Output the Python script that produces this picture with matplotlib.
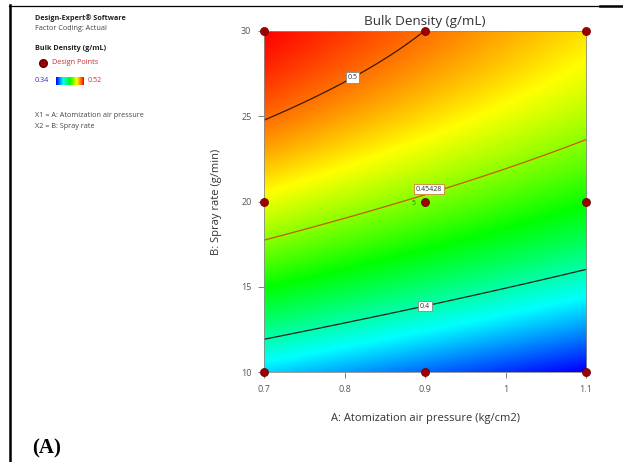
import numpy as np
import matplotlib
matplotlib.use("Agg")
import matplotlib.pyplot as plt
from matplotlib.colors import LinearSegmentedColormap
from matplotlib.lines import Line2D

plt.rcParams['font.family'] = ['Open Sans', 'DejaVu Sans']

# Factor ranges (actual units)
a_range = [0.7, 1.1]          # A: Atomization air pressure (kg/cm2)
b_range = [10, 30]            # B: Spray rate (g/min)

# Design points (face-centred design, centre point replicated 5 times)
design_A = [0.7, 0.7, 0.7, 0.9, 0.9, 0.9, 1.1, 1.1, 1.1]
design_B = [10, 20, 30, 10, 20, 30, 10, 20, 30]
centre_reps = 5

# Quadratic model in coded factors: b0, A, B, AB, A^2, B^2
coef_terms = ['b0', 'A', 'B', 'AB', 'A2', 'B2']
coef_values = [0.4515, -0.0199, 0.0705, 0.0, 0.0, -0.0221]

# Contour levels and colour scale limits
contour_levels = [0.4, 0.45428, 0.5]
contour_colors = ['#202020', '#c85a00', '#3a1a00']
label_A = [0.9, 0.905, 0.81]
label_lift = [0.0, 0.25, 0.0]   # small vertical offset of the label box (g/min)
scale_min, scale_max = 0.34, 0.52

xticks = [0.7, 0.8, 0.9, 1.0, 1.1]
xticklabels = ['0.7', '0.8', '0.9', '1', '1.1']
yticks = [10, 15, 20, 25, 30]


def predict(A, B):
    c = dict(zip(coef_terms, coef_values))
    a = (A - 0.9) / 0.2
    b = (B - 20) / 10
    return (c['b0'] + c['A'] * a + c['B'] * b + c['AB'] * a * b
            + c['A2'] * a ** 2 + c['B2'] * b ** 2)


cmap = LinearSegmentedColormap.from_list(
    'de', ['#0000ff', '#00ffff', '#00ff00', '#ffff00', '#ff0000'])

fig = plt.figure(figsize=(6.23, 4.62), dpi=100)
ax = fig.add_axes([264 / 623, 1 - 372 / 462, 322 / 623, 341 / 462])

gA = np.linspace(a_range[0], a_range[1], 400)
gB = np.linspace(b_range[0], b_range[1], 400)
AA, BB = np.meshgrid(gA, gB)
Z = predict(AA, BB)

ax.imshow(Z, origin='lower', extent=[a_range[0], a_range[1], b_range[0], b_range[1]],
          aspect='auto', cmap=cmap, vmin=scale_min, vmax=scale_max,
          interpolation='bilinear')

cs = ax.contour(AA, BB, Z, levels=contour_levels, colors=contour_colors,
                linewidths=0.9)

# Place each label on its contour at the chosen A position
for lev, col, xa, dy in zip(contour_levels, contour_colors, label_A, label_lift):
    bs = np.linspace(b_range[0], b_range[1], 4001)
    vals = predict(xa, bs)
    yb = bs[np.argmin(np.abs(vals - lev))]
    txt = f'{lev:g}'
    edge = '#d08040' if lev == 0.45428 else '#888888'
    ax.text(xa, yb + dy, txt, fontsize=5, ha='center', va='center', color='#333333',
            bbox=dict(boxstyle='square,pad=0.25', fc='white', ec=edge, lw=0.6),
            zorder=5)

ax.plot(design_A, design_B, 'o', color='#a00000', mec='#600000', mew=0.5,
        ms=5.8, clip_on=False, zorder=6)
ax.text(0.9 - 0.012, 19.9, str(centre_reps), fontsize=5, color='#208020',
        ha='right', va='center', zorder=6)

ax.set_xlim(a_range)
ax.set_ylim(b_range)
ax.set_xticks(xticks)
ax.set_xticklabels(xticklabels)
ax.set_yticks(yticks)
ax.tick_params(direction='out', length=4, width=0.6, color='#707070',
               labelsize=6.5, labelcolor='#555555', pad=5)
for s in ax.spines.values():
    s.set_color('#8a8a8a')
    s.set_linewidth(0.6)

ax.set_title('Bulk Density (g/mL)', fontsize=9.7, color='#333333', pad=4)
ax.set_xlabel('A: Atomization air pressure (kg/cm2)', fontsize=8,
              color='#333333', labelpad=14)
ax.set_ylabel('B: Spray rate (g/min)', fontsize=8, color='#333333', labelpad=14)

# Side panel
def ptext(x, y, s, **kw):
    fig.text(x / 623, 1 - y / 462, s, va='center', ha='left', **kw)

ptext(35, 18, 'Design-Expert® Software', fontsize=5.2, fontweight='bold', color='#222222')
ptext(35, 28, 'Factor Coding: Actual', fontsize=5.2, color='#444444')
ptext(35, 49, 'Bulk Density (g/mL)', fontsize=5.2, fontweight='bold', color='#222222')
fig.add_artist(Line2D([43 / 623], [1 - 63 / 462], marker='o', color='#a00000',
                      mec='#600000', ms=5.5, transform=fig.transFigure))
ptext(52, 63, 'Design Points', fontsize=5.2, color='#c03030')
ptext(35, 81, f'{scale_min:g}', fontsize=5.2, color='#3030d0')
ptext(88, 81, f'{scale_max:g}', fontsize=5.2, color='#d03030')
cax = fig.add_axes([56 / 623, 1 - 85 / 462, 28 / 623, 8 / 462])
cax.imshow(np.linspace(0, 1, 200)[None, :], aspect='auto', cmap=cmap)
cax.set_axis_off()
ptext(35, 116, 'X1 = A: Atomization air pressure', fontsize=5.2, color='#444444')
ptext(35, 126, 'X2 = B: Spray rate', fontsize=5.2, color='#444444')

fig.text(32 / 623, 1 - 448 / 462, '(A)', fontsize=15, fontweight='bold',
         family='Liberation Serif', va='center', ha='left')

# Frame lines
fig.add_artist(Line2D([9.5 / 623, 9.5 / 623], [0, 1 - 5 / 462], color='black',
                      lw=1.8, transform=fig.transFigure))
fig.add_artist(Line2D([9 / 623, 600 / 623], [1 - 5.5 / 462, 1 - 5.5 / 462],
                      color='black', lw=0.9, transform=fig.transFigure))
fig.add_artist(Line2D([600 / 623, 1], [1 - 5.5 / 462, 1 - 5.5 / 462],
                      color='black', lw=1.8, transform=fig.transFigure))

fig.savefig('out.png', dpi=100)
